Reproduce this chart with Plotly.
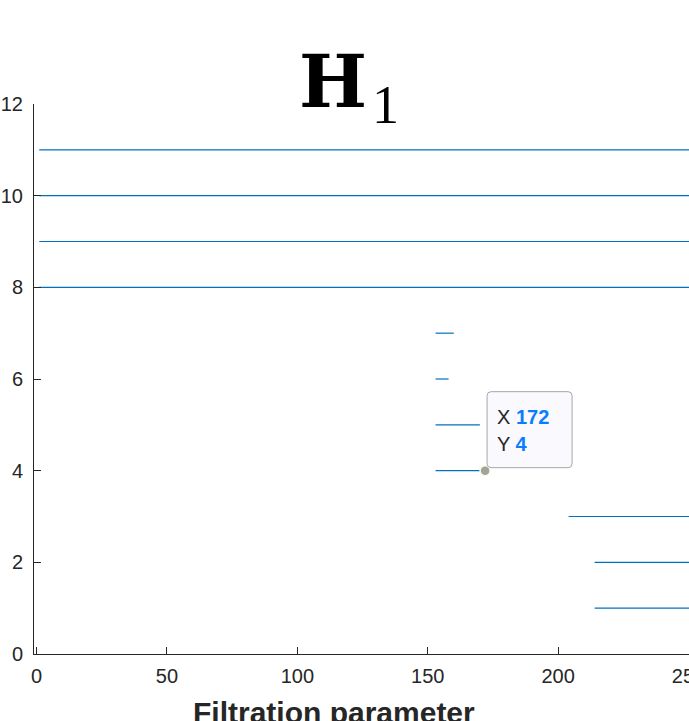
import plotly.graph_objects as go

# Barcode data (H1 persistence intervals)
bar_levels = [1, 2, 3, 4, 5, 6, 7, 8, 9, 10, 11]
bar_births = [214, 214, 204, 153, 153, 153, 153, 1, 1, 1, 1]
bar_deaths = [256, 256, 256, 172, 170, 158, 160, 256, 256, 256, 256]

x_ticks = [0, 50, 100, 150, 200, 250]
y_ticks = [0, 2, 4, 6, 8, 10, 12]

tip_x = 172
tip_y = 4

W, H = 689, 721
L, R, T, B = 34, 0, 104, 67
pw, ph = W - L - R, H - T - B

def px(xp):
    return (xp - L) / pw

def py(yp):
    return (H - B - yp) / ph

xs, ys = [], []
for lv, b, d in zip(bar_levels, bar_births, bar_deaths):
    xs += [b, d, None]
    ys += [lv, lv, None]

fig = go.Figure()
fig.add_trace(go.Scatter(x=xs, y=ys, mode="lines",
                         line=dict(color="#0072BD", width=1.2),
                         hoverinfo="skip", showlegend=False))

# datatip box (pixel offsets from the data point)
def rounded(x0, y0, x1, y1, r):
    return (f"M {x0+r} {y0} L {x1-r} {y0} Q {x1} {y0} {x1} {y0+r} "
            f"L {x1} {y1-r} Q {x1} {y1} {x1-r} {y1} L {x0+r} {y1} "
            f"Q {x0} {y1} {x0} {y1-r} L {x0} {y0+r} Q {x0} {y0} {x0+r} {y0} Z")

fig.add_shape(type="path", xref="x", yref="y", xsizemode="pixel", ysizemode="pixel",
              xanchor=tip_x, yanchor=tip_y,
              path=rounded(2, 3, 87, 79, 4),
              fillcolor="#F9F9FE", line=dict(color="#A8A8A8", width=1))

fig.add_trace(go.Scatter(x=[tip_x], y=[tip_y], mode="markers",
                         marker=dict(size=10, color="#A3A39E",
                                     line=dict(color="#FBFBE6", width=1.5)),
                         hoverinfo="skip", showlegend=False))

blue = "#0A7DFF"
fig.add_annotation(x=tip_x, y=tip_y, xref="x", yref="y", showarrow=False,
                   xanchor="left", yanchor="middle", xshift=10, yshift=54,
                   text=f"X <b><span style='color:{blue}'>{tip_x}</span></b>",
                   font=dict(family="Liberation Sans, Arial", size=20, color="#262626"))
fig.add_annotation(x=tip_x, y=tip_y, xref="x", yref="y", showarrow=False,
                   xanchor="left", yanchor="middle", xshift=10, yshift=27,
                   text=f"Y <b><span style='color:{blue}'>{tip_y}</span></b>",
                   font=dict(family="Liberation Sans, Arial", size=20, color="#262626"))

# title H_1
fig.add_annotation(x=px(333), y=py(82), xref="paper", yref="paper", showarrow=False,
                   xanchor="center", yanchor="middle", text="<b>H</b>",
                   font=dict(family="DejaVu Serif", size=72, color="#000000"))
fig.add_annotation(x=px(385), y=py(105), xref="paper", yref="paper", showarrow=False,
                   xanchor="center", yanchor="middle", text="1",
                   font=dict(family="Liberation Serif", size=54, color="#000000"))

# x-axis label
fig.add_annotation(x=px(334), y=py(712), xref="paper", yref="paper", showarrow=False,
                   xanchor="center", yanchor="middle", text="<b>Filtration parameter</b>",
                   font=dict(family="Liberation Sans, Arial", size=30, color="#262626"))

axis_common = dict(showgrid=False, zeroline=False, showline=True, linecolor="#262626",
                   linewidth=1, ticks="inside", ticklen=7, tickcolor="#262626",
                   tickwidth=1, mirror=False, automargin=False,
                   tickfont=dict(family="Liberation Sans, Arial", size=20, color="#262626"))

fig.update_layout(
    width=W, height=H,
    margin=dict(l=L, r=R, t=T, b=B, pad=0, autoexpand=False),
    paper_bgcolor="white", plot_bgcolor="white",
    xaxis=dict(range=[-1, 250.2], tickvals=x_ticks, ticklabeloverflow="allow",
               ticklabelstandoff=4, **axis_common),
    yaxis=dict(range=[0, 12], tickvals=y_ticks, ticklabelstandoff=6,
               ticklabeloverflow="allow", **axis_common),
)

fig.write_html("out.html", config={"displayModeBar": False},
               post_script="document.body.style.margin='0';document.body.style.overflow='hidden';")
